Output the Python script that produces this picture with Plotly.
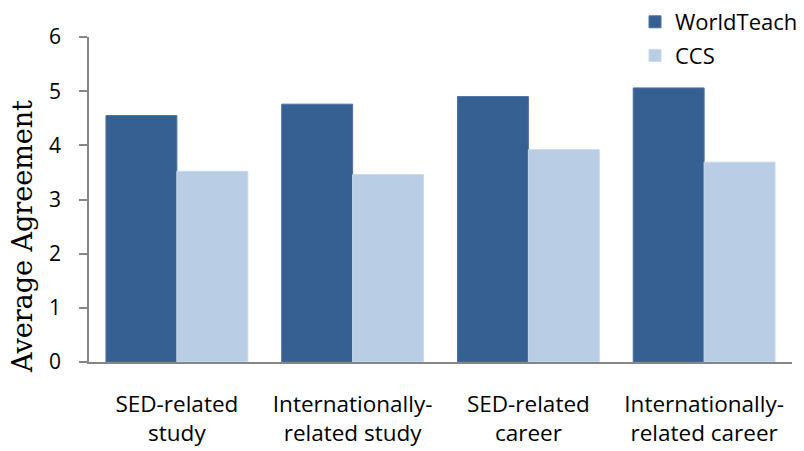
import plotly.graph_objects as go

categories = ["SED-related<br>study", "Internationally-<br>related study",
              "SED-related<br>career", "Internationally-<br>related career"]
series_names = ["WorldTeach", "CCS"]
worldteach = [4.55, 4.76, 4.90, 5.06]
ccs = [3.52, 3.46, 3.92, 3.69]
y_ticks = [0, 1, 2, 3, 4, 5, 6]

colors = ["#376092", "#B9CDE5"]
edge = ["#4A72A3", "#C9D9EC"]

fig = go.Figure()
for name, vals, c, e in zip(series_names, [worldteach, ccs], colors, edge):
    fig.add_trace(go.Bar(x=categories, y=vals, name=name, legendgroup=name,
                         marker=dict(color=c, line=dict(color=e, width=1))))

W, H = 804, 451
ml, mr, mt, mb = 89, 12, 37, 89
fig.update_layout(
    width=W, height=H,
    margin=dict(l=ml, r=mr, t=mt, b=mb, autoexpand=False),
    paper_bgcolor="white", plot_bgcolor="white",
    barmode="group", bargap=0.193, bargroupgap=0,
    font=dict(family="Open Sans, sans-serif", size=22, color="#000000"),
    legend=dict(xref="container", yref="container", x=635 / W, y=1 - 1 / H,
                xanchor="left", yanchor="top", font=dict(size=22),
                traceorder="grouped", tracegroupgap=2, bgcolor="rgba(0,0,0,0)"),
    xaxis=dict(showline=True, linecolor="#868686", linewidth=1.5, ticks="",
               showgrid=False, tickfont=dict(size=22.5), ticklabelstandoff=21,
               range=[-0.5, 3.5]),
    yaxis=dict(range=[0, 6], tickvals=y_ticks, showline=True, linecolor="#868686",
               linewidth=1.5, ticks="outside", ticklen=8, tickcolor="#868686",
               tickwidth=1.5, showgrid=False, zeroline=False,
               tickfont=dict(size=21), ticklabelstandoff=14),
    annotations=[dict(text="Average Agreement", textangle=-90, showarrow=False,
                      xref="paper", yref="paper", x=-(ml - 22) / (W - ml - mr),
                      y=(H - mb - 237) / (H - mt - mb), xanchor="center",
                      yanchor="middle",
                      font=dict(family="DejaVu Serif, Liberation Serif, serif",
                                size=27, color="#000000"))],
)

fig.write_html("out.html")
